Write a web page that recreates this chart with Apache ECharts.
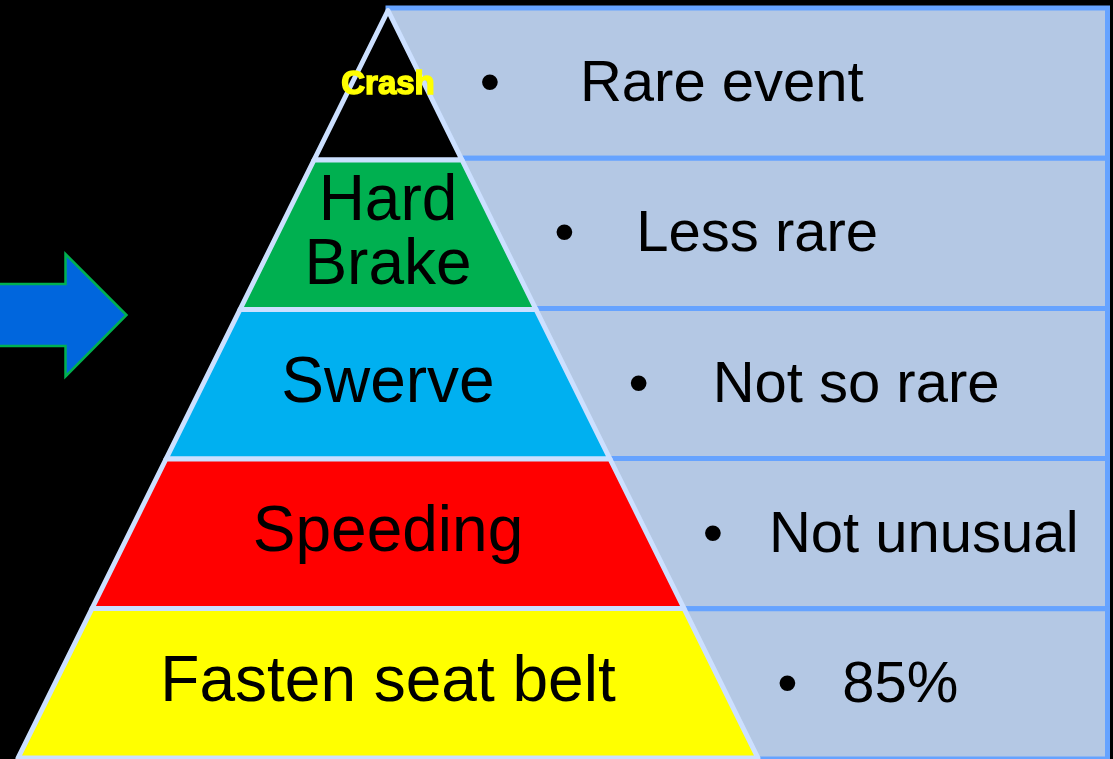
<!DOCTYPE html>
<html><head><meta charset="utf-8">
<script src="https://cdn.jsdelivr.net/npm/echarts@6/dist/echarts.min.js"></script>
<style>html,body{margin:0;padding:0;background:#000;}#c{width:1113px;height:759px;}</style>
</head><body><div id="c"></div>
<script>
// ---- data ----
const levels = ['Crash', 'Hard\nBrake', 'Swerve', 'Speeding', 'Fasten seat belt'];
const levelRank = [1, 2, 3, 4, 5];            // pyramid width rank, top to bottom
const levelColors = ['#000000', '#00b050', '#00b0f0', '#ff0000', '#ffff00'];
const notes = ['Rare event', 'Less rare', 'Not so rare', 'Not unusual', '85%'];
const rowIndex = [0, 1, 2, 3, 4];

// ---- layout ----
const PYR = { left: 18, top: 10.5, width: 740, height: 747.5 };
const bulletGap = 66;
const textIndent = [90, 72, 74, 56, 55];
const FONT = 'Liberation Sans';

const chart = echarts.init(document.getElementById('c'), null, { renderer: 'canvas' });

const option = {
  backgroundColor: '#000000',
  animation: false,
  grid: { left: 388, right: 5.5, top: 8, bottom: 0 },
  xAxis: { type: 'value', min: 0, max: 1, show: false },
  yAxis: { type: 'category', data: notes, inverse: true, show: false },
  graphic: [{
    type: 'polygon',
    shape: { points: [[-5, 284], [65.5, 284], [65.5, 254], [126.5, 315], [65.5, 376.5], [65.5, 346], [-5, 346]] },
    style: { fill: '#0066dd', stroke: '#00b050', lineWidth: 2.5 },
    z: 10
  }],
  series: [
    {
      type: 'custom',
      z: 1,
      silent: true,
      data: rowIndex.map(i => [1, i]),
      renderItem: function (params, api) {
        const i = params.dataIndex;
        const c = api.coord([0, i]);
        const band = api.size([0, 1])[1];
        const right = api.coord([1, i])[0];
        const x0 = c[0], yC = c[1];
        const y0 = yC - band / 2;
        const edgeX = PYR.left + PYR.width / 2 + (PYR.width / 2 / PYR.height) * (yC - PYR.top);
        const bx = edgeX + bulletGap;
        const ty = yC + 2;
        return {
          type: 'group',
          children: [
            { type: 'rect', shape: { x: x0, y: y0, width: right - x0, height: band },
              style: { fill: '#b4c8e4', stroke: '#66a3ff', lineWidth: 5 } },
            { type: 'text', style: { text: '\u2022', x: bx, y: ty, align: 'center', verticalAlign: 'middle',
              fontSize: 58, fontFamily: FONT, fill: '#000' } },
            { type: 'text', style: { text: notes[i], x: bx + textIndent[i], y: ty, align: 'left', verticalAlign: 'middle',
              fontSize: 58, fontFamily: FONT, fill: '#000' } }
          ]
        };
      }
    },
    {
      type: 'funnel',
      z: 5,
      left: PYR.left, top: PYR.top, width: PYR.width, height: PYR.height,
      sort: 'ascending', gap: 0, min: 0, max: 5, minSize: '0%', maxSize: '100%',
      itemStyle: { borderColor: '#cce0ff', borderWidth: 5 },
      label: { show: true, position: 'inside', color: '#000', fontSize: 64, lineHeight: 64, fontFamily: FONT, padding: [6, 0, 0, 0] },
      labelLine: { show: false },
      emphasis: { disabled: true },
      data: levels.map((n, i) => {
        const d = { name: n, value: levelRank[i], itemStyle: { color: levelColors[i] } };
        if (i === 0) d.label = { color: '#ffff00', fontSize: 33, fontWeight: 'bold', fontFamily: FONT, lineHeight: 33,
                                 textBorderColor: '#ffff00', textBorderWidth: 1.5, padding: 0 };
        if (i === 1) d.label = { padding: [2, 0, 0, 0] };
        return d;
      })
    }
  ]
};
chart.setOption(option);
</script>
</body></html>
